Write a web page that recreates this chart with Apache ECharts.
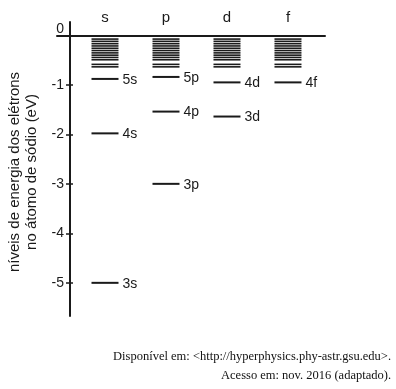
<!DOCTYPE html>
<html><head><meta charset="utf-8">
<script src="https://cdn.jsdelivr.net/npm/echarts@6/dist/echarts.min.js"></script>
<style>html,body{margin:0;padding:0;background:#fff}#c{width:396px;height:389px}</style>
</head><body><div id="c"></div>
<script>
// ---- data ----
const categories = ['s', 'p', 'd', 'f'];
const levelNames = ['3s', '4s', '5s', '3p', '4p', '5p', '3d', '4d', '4f'];
const levelColumns = ['s', 's', 's', 'p', 'p', 'p', 'd', 'd', 'f'];
const levelEnergies = [-5.0, -1.98, -0.88, -3.0, -1.54, -0.84, -1.64, -0.95, -0.95];
// closely spaced higher levels drawn in every column (eV)
const upperLevelEnergies = [-0.075, -0.121, -0.168, -0.214, -0.261, -0.307, -0.354, -0.400, -0.446, -0.493, -0.586, -0.636];
const yTickLabels = [0, -1, -2, -3, -4, -5];
const yTickValues = [-1, -2, -3, -4, -5];
const yAxisName = 'níveis de energia dos elétrons\nno átomo de sódio (eV)';
const sourceLines = ['Disponível em: <http://hyperphysics.phy-astr.gsu.edu>.', 'Acesso em: nov. 2016 (adaptado).'];

const INK = '#1a1a1a';
const FONT = 'Liberation Sans, Arial, sans-serif';

const levelData = levelEnergies.map((e, i) => [categories.indexOf(levelColumns[i]), e]);
const upperData = [];
categories.forEach((c, ci) => upperLevelEnergies.forEach(e => upperData.push([ci, e])));
const headerData = categories.map((c, i) => [i, 0.35]);

const HALF = 13.5;
function lineItem(params, api, label) {
  const p = api.coord([api.value(0), api.value(1)]);
  const children = [{
    type: 'line',
    shape: { x1: p[0] - HALF, y1: p[1], x2: p[0] + HALF, y2: p[1] },
    style: { stroke: INK, lineWidth: label ? 2 : 1.6 }
  }];
  if (label) {
    children.push({
      type: 'text',
      style: { text: label, x: p[0] + HALF + 4, y: p[1] + 1, align: 'left', verticalAlign: 'middle',
        font: '14px ' + FONT, fill: INK }
    });
  }
  return { type: 'group', children };
}

const chart = echarts.init(document.getElementById('c'));
const yBase = {
  type: 'value', min: -5.67, max: 0.27, offset: -13, position: 'left',
  splitLine: { show: false }
};
chart.setOption({
  animation: false,
  grid: { left: 57, right: 71, top: 22, bottom: 73, containLabel: false, outerBoundsMode: 'none' },
  xAxis: {
    type: 'value', min: -0.787, max: 3.607,
    axisLine: { show: true, onZero: true, lineStyle: { color: INK, width: 2 } },
    axisTick: { show: false }, axisLabel: { show: false }, splitLine: { show: false }
  },
  yAxis: [
    Object.assign({}, yBase, {
      axisLine: { show: true, onZero: false, lineStyle: { color: INK, width: 2 } },
      axisTick: { show: true, length: 4, customValues: yTickValues, lineStyle: { color: INK, width: 1.5 } },
      axisLabel: {
        show: true, customValues: yTickLabels, margin: 6, color: INK, fontSize: 14, fontFamily: FONT,
        formatter: v => v === 0 ? '{z|0}' : String(v),
        rich: { z: { fontSize: 14, fontFamily: FONT, color: INK, padding: [0, 0, 12, 0] } }
      },
      name: yAxisName, nameLocation: 'middle', nameRotate: 90, nameGap: 29,
      nameTextStyle: { color: INK, fontSize: 15, fontFamily: FONT, lineHeight: 17, align: 'center', padding: [0, 6, 0, 0] }
    }),
    Object.assign({}, yBase, {
      axisLine: { show: false, onZero: false },
      axisTick: { show: true, inside: true, length: 3, customValues: yTickValues, lineStyle: { color: INK, width: 1.5 } },
      axisLabel: { show: false }
    })
  ],
  graphic: sourceLines.map((t, i) => ({
    type: 'text', right: 5, top: 350 + i * 19,
    style: { text: t, align: 'left', font: '12.5px Liberation Serif, Times New Roman, serif', fill: '#111' }
  })),
  series: [
    {
      type: 'custom', data: upperData, clip: false, silent: true,
      renderItem: (params, api) => lineItem(params, api, null)
    },
    {
      type: 'custom', data: levelData, clip: false, silent: true,
      renderItem: (params, api) => lineItem(params, api, levelNames[params.dataIndex])
    },
    {
      type: 'custom', data: headerData, clip: false, silent: true,
      renderItem: (params, api) => {
        const p = api.coord([api.value(0), api.value(1)]);
        return { type: 'text', style: { text: categories[params.dataIndex], x: p[0], y: p[1],
          align: 'center', verticalAlign: 'middle', font: '15px ' + FONT, fill: INK } };
      }
    }
  ]
});
</script>
</body></html>
